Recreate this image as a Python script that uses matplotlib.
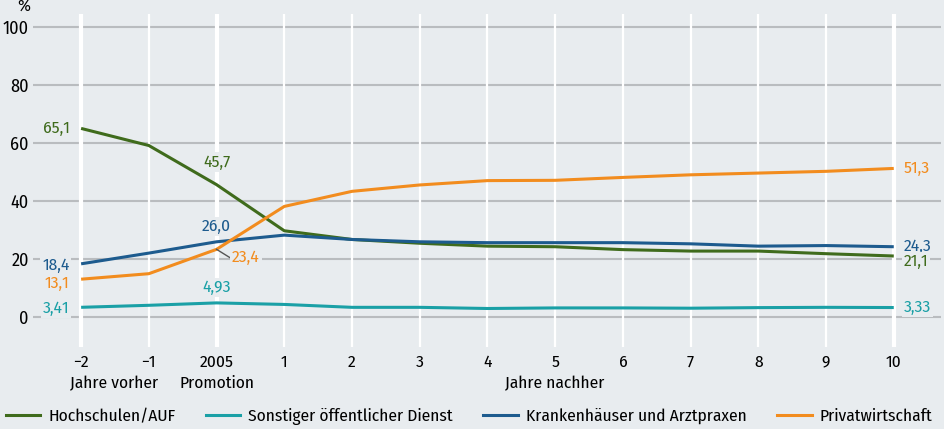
import matplotlib
matplotlib.use("Agg")
import matplotlib.pyplot as plt
from matplotlib import font_manager

# pick a narrow sans if one is there, else Roboto
avail = {f.name for f in font_manager.fontManager.ttflist}
fam = "Roboto"
for cand in ["Fira Sans Condensed", "Roboto Condensed", "PT Sans Narrow", "Liberation Sans Narrow"]:
    if cand in avail:
        fam = cand
        break
plt.rcParams['font.family'] = [fam, 'DejaVu Sans']

ticks = ["\u22122", "\u22121", "2005", "1", "2", "3", "4", "5", "6", "7", "8", "9", "10"]
hochschulen = [65.1, 59.2, 45.7, 29.8, 26.8, 25.5, 24.5, 24.3, 23.3, 22.8, 22.8, 21.9, 21.1]
sonstiger = [3.41, 4.1, 4.93, 4.4, 3.4, 3.4, 3.0, 3.2, 3.2, 3.1, 3.3, 3.4, 3.33]
kranken = [18.4, 22.1, 26.0, 28.3, 26.8, 26.0, 25.7, 25.7, 25.7, 25.3, 24.5, 24.7, 24.3]
privat = [13.1, 15.0, 23.4, 38.2, 43.4, 45.6, 47.1, 47.2, 48.2, 49.1, 49.7, 50.3, 51.3]
names_leg = ["Hochschulen/AUF", "Sonstiger öffentlicher Dienst",
             "Krankenhäuser und Arztpraxen", "Privatwirtschaft"]
colors = ["#3f6b1c", "#1aa0a6", "#1d5b8e", "#f28c1e"]

bg = "#e8ecef"
x = list(range(len(ticks)))

fig = plt.figure(figsize=(9.44, 4.29), dpi=100, facecolor=bg)
ax = fig.add_axes([0.035, 0.191, 0.962, 0.776], facecolor=bg)
ax.set_xlim(-0.71, 12.7)
ax.set_ylim(-10.3, 104.5)

for i in x:
    lw = 3 if i in (0, 2, 12) else 1.6
    ax.axvline(i, color="white", lw=lw, zorder=1)
for v in range(0, 101, 20):
    ax.axhline(v, color="#b9bcbf", lw=1.5, zorder=0.5)

series = [hochschulen, sonstiger, kranken, privat]
for s, c in zip(series, colors):
    ax.plot(x, s, color=c, lw=2.2, zorder=3, solid_capstyle="butt")

box = dict(boxstyle="square,pad=0.1", fc=bg, ec="none")
fs = 12.5
def lab(xx, yy, txt, c, ha):
    ax.text(xx, yy, txt, color=c, fontsize=fs, ha=ha, va="center", bbox=box, zorder=4)

lab(-0.17, 65.1, "65,1", colors[0], "right")
lab(-0.17, 18.0, "18,4", colors[2], "right")
lab(-0.17, 11.8, "13,1", colors[3], "right")
lab(-0.17, 3.2, "3,41", colors[1], "right")
lab(2.0, 53.5, "45,7", colors[0], "center")
lab(2.0, 31.3, "26,0", colors[2], "center")
lab(2.0, 10.3, "4,93", colors[1], "center")
lab(12.15, 51.3, "51,3", colors[3], "left")
lab(12.15, 24.6, "24,3", colors[2], "left")
lab(12.15, 19.3, "21,1", colors[0], "left")
lab(12.15, 3.33, "3,33", colors[1], "left")
ax.plot([2.0, 2.2], [23.4, 20.5], color="#555555", lw=1, zorder=4)
lab(2.23, 20.7, "23,4", colors[3], "left")

ax.set_xticks(x)
ax.set_xticklabels(ticks, fontsize=fs)
ax.set_yticks(range(0, 101, 20))
ax.set_yticklabels([str(v) for v in range(0, 101, 20)], fontsize=fs + 0.5)
ax.tick_params(axis="both", length=0, pad=3)
ax.tick_params(axis="x", pad=5)
for sp in ax.spines.values():
    sp.set_visible(False)

fig.text(0.018, 0.985, "%", fontsize=fs, ha="left", va="center")
xt = ax.get_xaxis_transform()
ax.text(0.49, -0.085, "Jahre vorher", fontsize=fs, ha="center", va="top", transform=xt)
ax.text(2.0, -0.085, "Promotion", fontsize=fs, ha="center", va="top", transform=xt)
ax.text(7.0, -0.085, "Jahre nachher", fontsize=fs, ha="center", va="top", transform=xt)

handles = [plt.Line2D([], [], color=c, lw=2.2) for c in colors]
fig.legend(handles, names_leg, loc="lower left", ncol=4, frameon=False,
           fontsize=fs, bbox_to_anchor=(-0.005, -0.015), handlelength=2.0,
           columnspacing=1.75, handletextpad=0.45, borderaxespad=0.2)

fig.savefig("out.png", dpi=100, facecolor=bg)
